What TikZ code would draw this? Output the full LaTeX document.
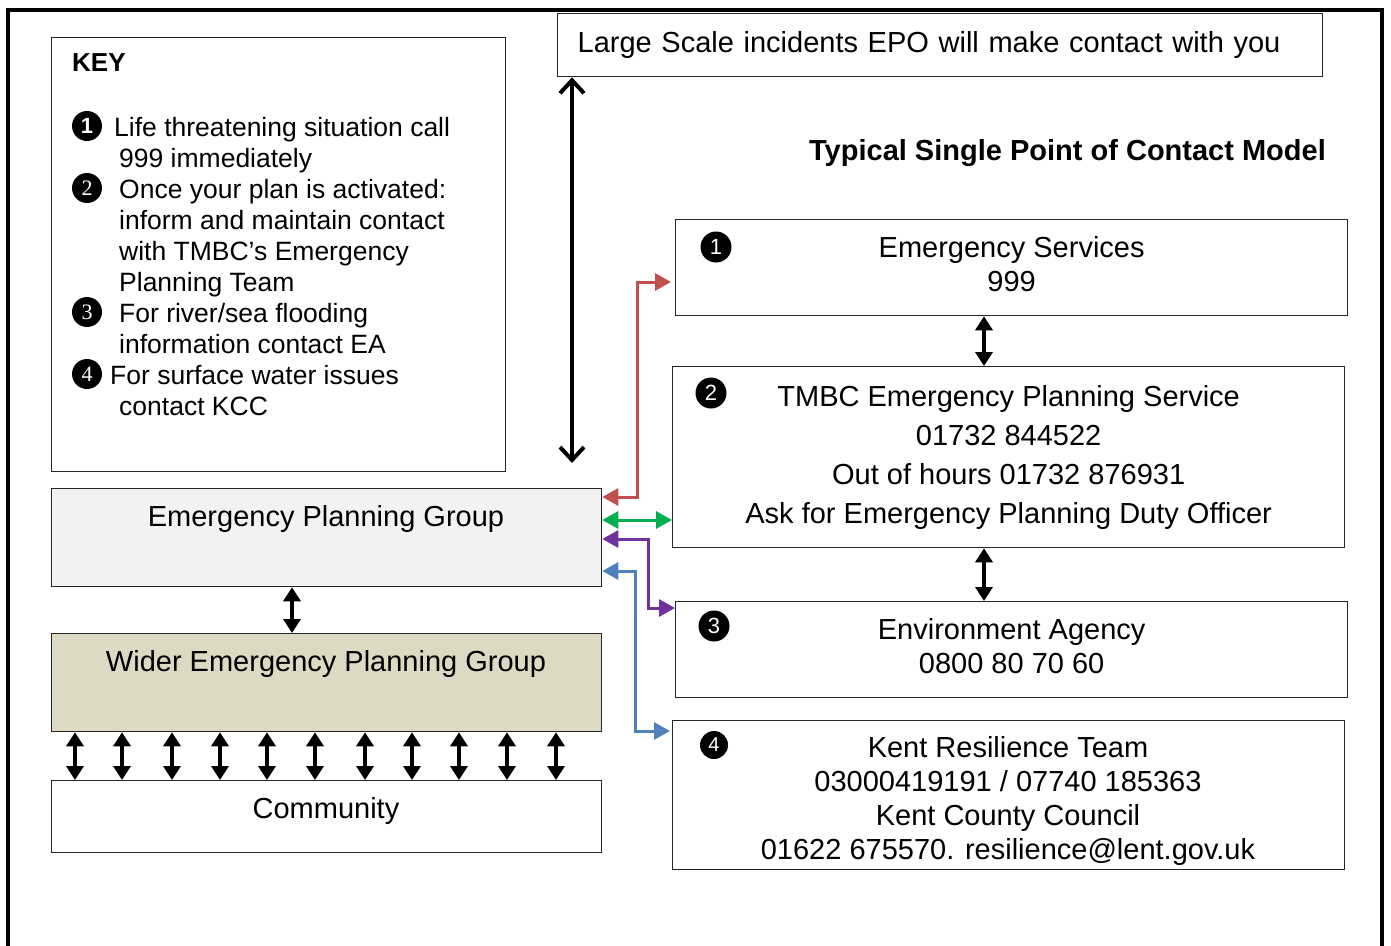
\documentclass[tikz,border=0pt]{standalone}
\usepackage{fontspec}
\setmainfont{Liberation Sans}
\newfontfamily\numserif{Liberation Serif}
\usetikzlibrary{arrows.meta}

\definecolor{linkred}{HTML}{C0504D}
\definecolor{linkgreen}{HTML}{00B050}
\definecolor{linkpurple}{HTML}{7030A0}
\definecolor{linkblue}{HTML}{4F81BD}
\definecolor{epggray}{HTML}{F2F2F2}
\definecolor{wepgtan}{HTML}{DDD9C3}

\tikzset{
	box/.style={draw=black!85, line width=1.3pt, anchor=north west, inner sep=0pt},
	boxtext/.style={font=\fontsize{29}{34}\selectfont, align=center},
	numdot/.style={circle, fill=black, text=white, inner sep=0pt, minimum size=31pt, font=\fontsize{22}{22}\selectfont},
	keydot/.style={circle, fill=black, text=white, inner sep=0pt, minimum size=30pt, font=\numserif\fontsize{22}{22}\selectfont},
	twoway/.style={{Triangle[width=17pt,length=14pt]}-{Triangle[width=17pt,length=14pt]}, line width=4pt},
	link/.style={{Triangle[width=17pt,length=16pt]}-{Triangle[width=17pt,length=16pt]}, line width=3pt},
	bigarrow/.style={{Straight Barb[width=24pt,length=13pt]}-{Straight Barb[width=24pt,length=13pt]}, line width=4pt},
}

\begin{document}
\begin{tikzpicture}[x=1pt, y=-1pt]
	\useasboundingbox (0,0) rectangle (1391,945);
	%\draw[help lines] (0,0) grid[step=100] (1391,945);
	\draw[line width=4.5pt] (8,960) -- (8,10) -- (1382,10) -- (1382,960);

	% top box and title
	\node[box, minimum width=765pt, minimum height=63pt, inner xsep=20pt, text width=725pt, align=left, font=\fontsize{29}{34}\selectfont] (epo) at (557,13) {Large Scale incidents EPO will make contact with you};
	\node[font=\bfseries\fontsize{29}{29}\selectfont, anchor=east, inner sep=0pt] (title) at (1326,153) {Typical Single Point of Contact Model};

	% key
	\node[box, minimum width=454pt, minimum height=434pt] (key) at (51,37) {};
	\node[font=\bfseries\fontsize{26}{26}\selectfont, anchor=west, inner sep=0pt] (keyhead) at (72,63) {KEY};
	\node[font=\fontsize{26.5}{31}\selectfont, align=left, anchor=base west, inner sep=0pt] (keylist) at (119,415)
		{\hspace*{-5pt}Life threatening situation call\\
		999 immediately\\
		Once your plan is activated:\\
		inform and maintain contact\\
		with TMBC’s Emergency\\
		Planning Team\\
		For river/sea flooding\\
		information contact EA\\
		\hspace*{-9pt}For surface water issues\\
		contact KCC};
	\node[keydot, font=\bfseries\fontsize{22}{22}\selectfont] (k1) at (87,126) {1};
	\node[keydot] (k2) at (87,188) {2};
	\node[keydot] (k3) at (87,312) {3};
	\node[keydot] (k4) at (87,374) {4};

	% left column
	\node[box, fill=epggray, minimum width=550pt, minimum height=98pt] (epg) at (51,488) {};
	\node[boxtext] (epgtext) at (326,519) {Emergency Planning Group};
	\node[box, fill=wepgtan, minimum width=550pt, minimum height=98pt] (wepg) at (51,633) {};
	\node[boxtext] (wepgtext) at (326,664) {Wider Emergency Planning Group};
	\node[box, minimum width=550pt, minimum height=72pt] (comm) at (51,780) {};
	\node[boxtext] (commtext) at (326,811) {Community};

	% right column
	\node[box, boxtext, text depth=8pt, minimum width=672pt, minimum height=96pt] (ems) at (675,219) {Emergency Services\\999};
	\node[box, boxtext, font=\fontsize{29}{39}\selectfont, minimum width=672pt, minimum height=181pt] (tmbc) at (672,366)
		{TMBC Emergency Planning Service\\01732 844522\\Out of hours 01732 876931\\Ask for Emergency Planning Duty Officer};
	\node[box, boxtext, text depth=8pt, minimum width=672pt, minimum height=96pt] (ea) at (675,601) {Environment Agency\\0800 80 70 60};
	\node[box, minimum width=672pt, minimum height=149pt] (krt) at (672,720) {};
	\node[boxtext] (krttext) at (1008,801)
		{Kent Resilience Team\\03000419191 / 07740 185363\\Kent County Council\\01622 675570. resilience@lent.gov.uk};
	\node[numdot] (n1) at (716,247) {1};
	\node[numdot] (n2) at (711,393) {2};
	\node[numdot] (n3) at (714,626) {3};
	\node[numdot, minimum size=28pt, font=\fontsize{20}{20}\selectfont] (n4) at (714,745) {4};

	% black arrows
	\coordinate (epoend) at (572,463);
	\draw[bigarrow] (572,0 |- epo.south) -- (epoend);
	\draw[twoway] (292,0 |- epg.south) -- (292,0 |- wepg.north);
	\foreach \x in {75,122,172,220,267,315,365,412,459,507,556}
		\draw[twoway] (\x,0 |- wepg.south) -- (\x,0 |- comm.north);
	\draw[twoway] (984,0 |- ems.south) -- (984,0 |- tmbc.north);
	\draw[twoway] (984,0 |- tmbc.south) -- (984,0 |- ea.north);

	% coloured links
	\draw[link, linkred, shorten >=4pt] (epg.east |- 0,497) -- (637,497) -- (637,282) -- (ems.west |- 0,282);
	\draw[link, linkgreen] (epg.east |- 0,520) -- (tmbc.west |- 0,520);
	\draw[link, linkpurple] (epg.east |- 0,539) -- (648,539) -- (648,608) -- (ea.west |- 0,608);
	\draw[link, linkblue, shorten >=2pt] (epg.east |- 0,571) -- (635,571) -- (635,731) -- (krt.west |- 0,731);
\end{tikzpicture}
\end{document}
